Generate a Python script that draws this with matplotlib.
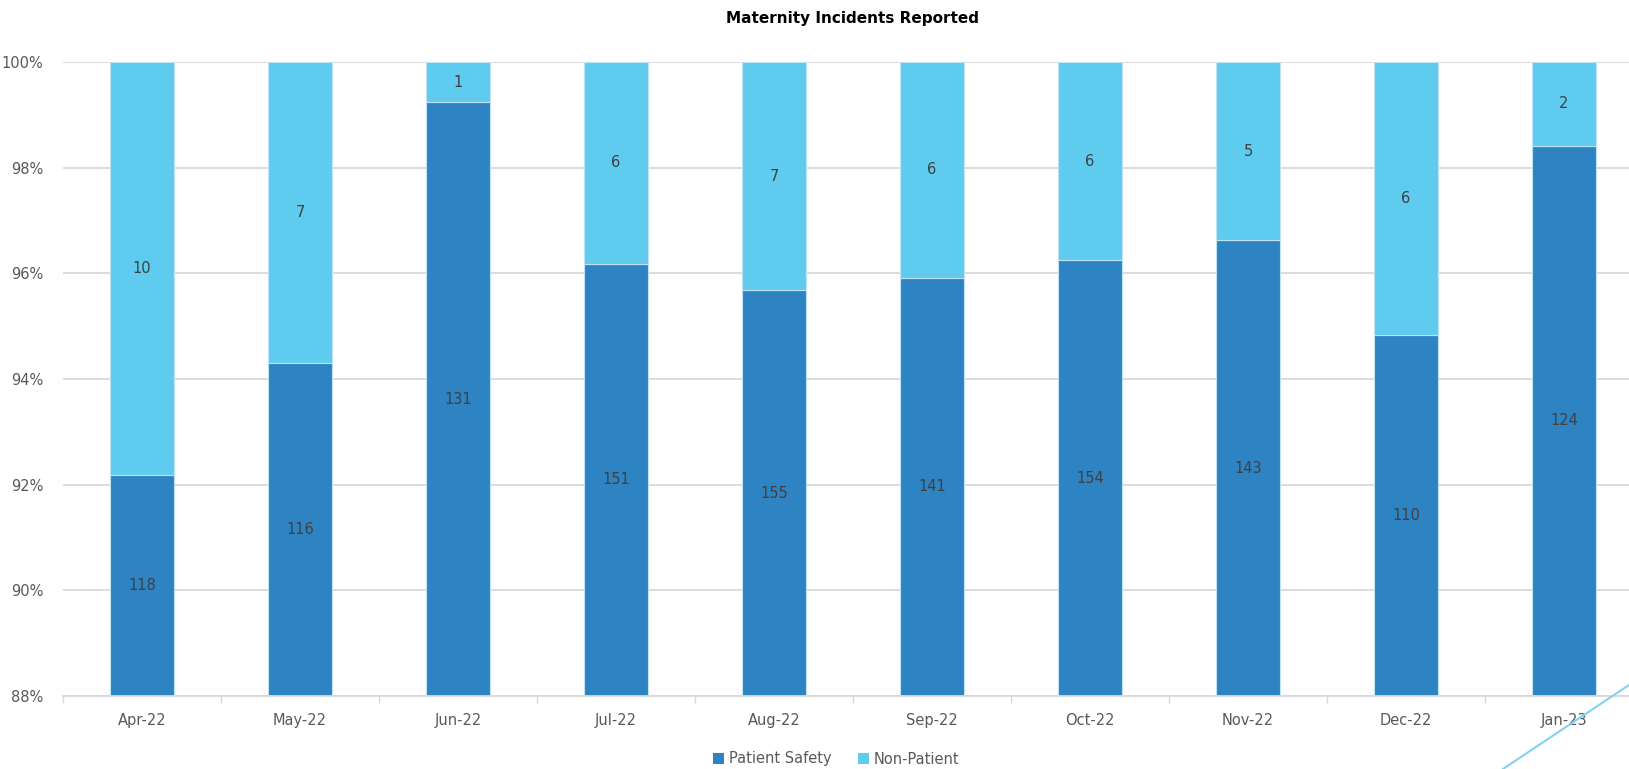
import matplotlib
matplotlib.use("Agg")
import matplotlib.pyplot as plt
import numpy as np
from matplotlib.lines import Line2D
from matplotlib.patches import Patch

months = ["Apr-22", "May-22", "Jun-22", "Jul-22", "Aug-22", "Sep-22",
          "Oct-22", "Nov-22", "Dec-22", "Jan-23"]
patient_safety = [118, 116, 131, 151, 155, 141, 154, 143, 110, 124]
non_patient = [10, 7, 1, 6, 7, 6, 6, 5, 6, 2]
yticks = [88, 90, 92, 94, 96, 98, 100]

DARK = "#2E83C3"
LIGHT = "#5FCBEF"
TXT = "#595959"
LBL = "#404040"
GRID = "#D9D9D9"

plt.rcParams['font.family'] = ['DejaVu Sans']

fig = plt.figure(figsize=(16.29, 7.69), dpi=100)
W, H = 1629, 769
ax = fig.add_axes([63 / W, 73 / H, 1580 / W, 634 / H])

x = np.arange(len(months))
ps = np.array(patient_safety, float)
npt = np.array(non_patient, float)
tot = ps + npt
ps_pct = ps / tot * 100
np_pct = npt / tot * 100

ax.bar(x, ps_pct, width=0.4, color=DARK, edgecolor="#BFE3F5", linewidth=0.8, zorder=3)
ax.bar(x, np_pct, bottom=ps_pct, width=0.4, color=LIGHT, edgecolor="#BFE3F5", linewidth=0.8, zorder=3)

ymin, ymax = 88, 100
for i in range(len(x)):
    y1 = (max(0, ymin) + ps_pct[i]) / 2
    y1 = (ymin + ps_pct[i]) / 2
    ax.text(x[i], y1, str(patient_safety[i]), ha="center", va="center",
            fontsize=10.5, color=LBL, zorder=4)
    y2 = (ps_pct[i] + 100) / 2
    ax.text(x[i], y2, str(non_patient[i]), ha="center", va="center",
            fontsize=10.5, color=LBL, zorder=4)

ax.set_xlim(-0.5, len(x) - 0.5)
ax.set_ylim(ymin, ymax)
ax.set_yticks(yticks)
ax.set_yticklabels([f"{v}%" for v in yticks])
ax.set_xticks(x)
ax.set_xticklabels(months)
ax.set_xticks(np.arange(-0.5, len(x) + 0.5, 1), minor=True)
ax.tick_params(axis="x", which="major", length=0, pad=12, labelsize=10.5, labelcolor=TXT)
ax.tick_params(axis="x", which="minor", length=5, width=1, color=GRID)
ax.tick_params(axis="y", length=0, pad=14, labelsize=10.5, labelcolor=TXT)

ax.grid(axis="y", color=GRID, linewidth=1.3, zorder=0)
ax.set_axisbelow(True)
for s in ["top", "right", "left"]:
    ax.spines[s].set_visible(False)
ax.spines["bottom"].set_color(GRID)
ax.spines["bottom"].set_linewidth(1.3)
ax.spines["bottom"].set_zorder(3.5)

fig.text(853 / W, 1 - 19 / H, "Maternity Incidents Reported", ha="center", va="center",
         fontsize=11, fontweight="bold", color="#000000")

handles = [Patch(facecolor=DARK, edgecolor="none"), Patch(facecolor=LIGHT, edgecolor="none")]
fig.legend(handles, ["Patient Safety", "Non-Patient"], loc="center",
           bbox_to_anchor=(836 / W, 1 - 759 / H), ncol=2, frameon=False,
           fontsize=10.5, labelcolor=TXT, handlelength=0.8, handleheight=0.8,
           handletextpad=0.3, columnspacing=1.8)

# decorative diagonal line in the lower right corner
fig.add_artist(Line2D([1629 / W, 1503 / W], [1 - 685 / H, 1 - 769 / H],
                      transform=fig.transFigure, color="#7FD3EE", linewidth=1.5))

fig.savefig("out.png", dpi=100)
